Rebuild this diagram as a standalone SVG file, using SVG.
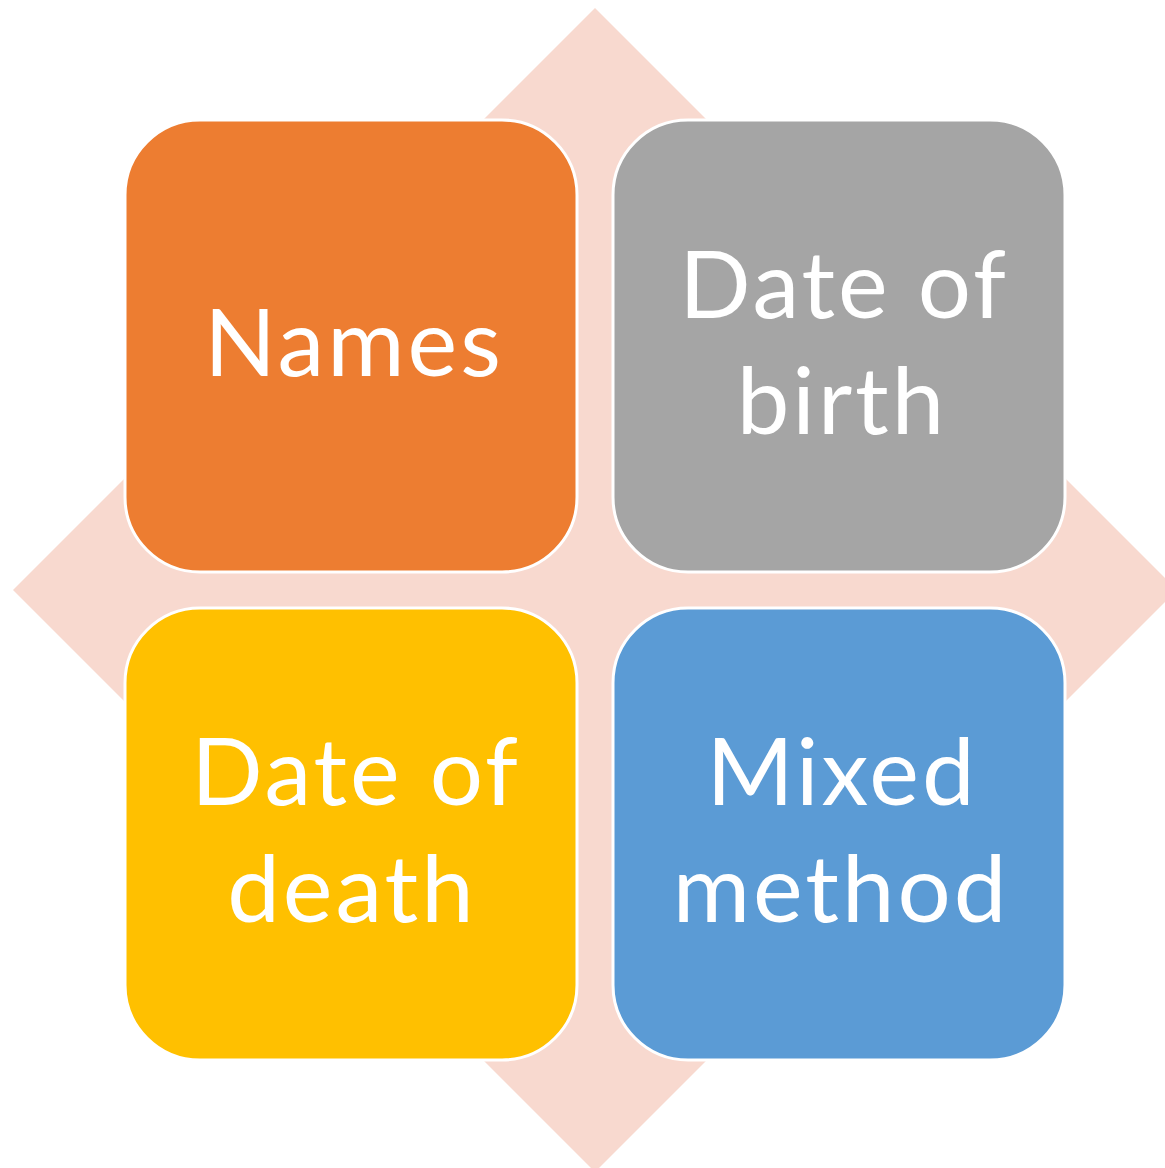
<svg xmlns="http://www.w3.org/2000/svg" width="1165" height="1168" viewBox="0 0 1165 1168">
<style>
.box{stroke:#FFFFFF;stroke-width:3}
.t{font-family:Lato,"Open Sans","Liberation Sans",sans-serif;font-size:94px;letter-spacing:3px;fill:#FFFFFF;text-anchor:middle}
</style>
<rect width="1165" height="1168" fill="#FFFFFF"/>
<g id="background">
<polygon points="595,8 1177,590 595,1172 13,590" fill="#F8D9CF"/>
</g>
<g id="names">
<rect class="box" x="125" y="120" width="452" height="452" rx="75" ry="75" fill="#ED7D31"/>
<text class="t" x="354" y="376">Names</text>
</g>
<g id="date-of-birth">
<rect class="box" x="613" y="120" width="452" height="452" rx="75" ry="75" fill="#A5A5A5"/>
<text class="t" x="844" y="318">Date of</text>
<text class="t" x="842" y="434">birth</text>
</g>
<g id="date-of-death">
<rect class="box" x="125" y="608" width="452" height="452" rx="75" ry="75" fill="#FFC000"/>
<text class="t" x="356" y="805">Date of</text>
<text class="t" x="352" y="922">death</text>
</g>
<g id="mixed-method">
<rect class="box" x="613" y="608" width="452" height="452" rx="75" ry="75" fill="#5B9BD5"/>
<text class="t" x="842" y="805">Mixed</text>
<text class="t" x="841" y="922">method</text>
</g>
<g id="connectors"></g>
</svg>
